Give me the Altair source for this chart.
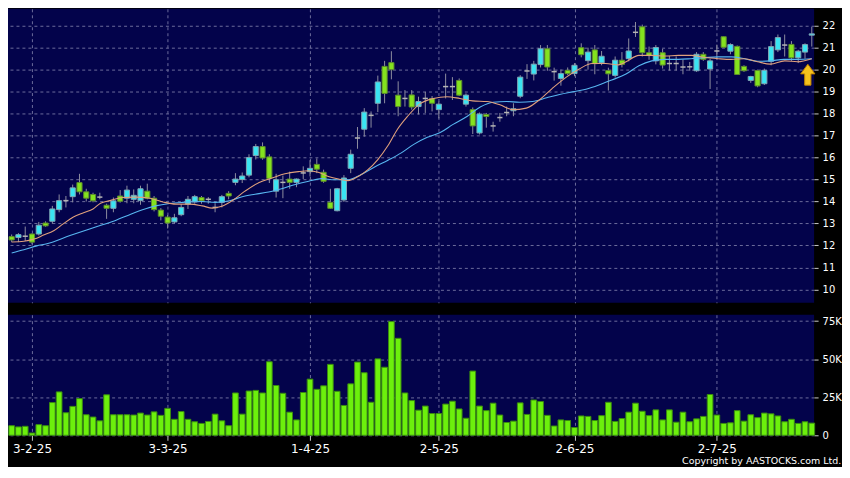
import altair as alt
import pandas as pd

# ---------------- data ----------------
OPEN = [12.40, 12.36, 12.42, 12.52, 12.52, 13.02, 13.10, 13.63, 14.04, 14.22,
        14.86, 14.44, 14.32, 14.20, 13.83, 13.69, 14.25, 14.15, 14.10, 14.04,
        14.47, 14.15, 13.61, 13.29, 13.07, 13.40, 13.88, 13.98, 14.18, 14.10,
        13.73, 13.96, 14.37, 14.87, 15.00, 15.20, 16.09, 16.50, 16.03, 14.47,
        14.87, 15.02, 14.87, 15.30, 15.36, 15.69, 15.33, 13.96, 13.58, 14.07,
        15.51, 16.89, 17.29, 17.92, 18.47, 20.15, 20.32, 18.84, 18.69, 18.85,
        18.32, 18.69, 18.69, 18.18, 19.23, 19.23, 19.51, 18.43, 18.18, 17.12,
        17.96, 17.44, 17.82, 18.05, 18.13, 18.79, 19.94, 19.80, 20.23, 20.95,
        19.91, 19.60, 19.97, 19.82, 21.00, 20.41, 20.90, 20.31, 19.96, 19.74,
        20.43, 20.50, 21.70, 21.95, 20.77, 20.40, 20.77, 20.28, 20.28, 20.12,
        20.13, 19.95, 20.70, 20.03, 20.85, 21.50, 20.84, 21.06, 20.15, 19.51,
        19.96, 19.36, 20.38, 20.90, 21.12, 21.15, 20.54, 20.80, 21.57]
HIGH = [12.50, 12.56, 12.86, 12.55, 13.07, 13.10, 13.80, 14.32, 14.25, 14.77,
        15.26, 14.58, 14.40, 14.40, 13.90, 14.18, 14.52, 14.72, 14.55, 14.72,
        14.81, 14.25, 13.70, 13.39, 13.44, 13.88, 14.25, 14.30, 14.25, 14.20,
        13.92, 14.30, 14.47, 15.29, 15.32, 16.15, 16.62, 16.69, 16.15, 15.26,
        15.18, 15.36, 15.05, 15.60, 15.88, 15.96, 15.45, 14.58, 14.62, 15.20,
        16.36, 17.39, 18.25, 18.10, 19.73, 20.40, 20.84, 19.47, 19.07, 19.07,
        18.77, 18.99, 18.80, 18.55, 19.82, 19.66, 19.60, 18.92, 18.28, 18.05,
        18.03, 17.63, 18.03, 18.32, 18.47, 19.75, 20.25, 20.40, 21.12, 21.12,
        20.09, 20.01, 20.10, 20.30, 21.20, 21.00, 21.12, 20.85, 20.09, 20.60,
        20.80, 21.42, 22.17, 22.05, 21.05, 21.12, 20.95, 20.62, 20.60, 20.46,
        20.35, 20.80, 20.80, 20.50, 21.14, 21.51, 21.20, 21.10, 20.20, 19.72,
        20.00, 20.05, 21.30, 21.60, 21.60, 21.30, 20.90, 21.20, 21.95]
LOW = [12.15, 12.15, 12.20, 12.05, 12.45, 12.85, 12.99, 13.51, 13.73, 13.96,
       14.32, 14.00, 13.96, 14.10, 13.21, 13.51, 13.95, 13.92, 13.92, 13.85,
       14.10, 13.55, 13.14, 12.77, 13.00, 13.33, 13.66, 13.90, 13.90, 13.90,
       13.51, 13.73, 14.10, 14.74, 14.84, 15.10, 15.91, 15.90, 14.84, 14.18,
       14.15, 14.58, 14.65, 15.02, 15.14, 15.29, 14.85, 13.66, 13.55, 13.98,
       15.29, 16.40, 16.95, 17.36, 18.07, 18.47, 19.56, 17.88, 18.32, 18.18,
       17.96, 18.03, 18.10, 17.78, 18.69, 18.62, 18.80, 18.32, 17.07, 17.05,
       17.36, 17.18, 17.63, 17.88, 17.88, 18.70, 19.58, 19.51, 20.10, 19.95,
       19.50, 19.27, 19.75, 19.70, 20.56, 20.00, 19.79, 20.20, 19.05, 19.64,
       20.10, 20.38, 21.49, 20.60, 20.45, 20.24, 20.05, 19.96, 19.96, 19.79,
       19.95, 19.90, 20.40, 19.12, 20.47, 21.00, 20.70, 19.76, 19.90, 19.40,
       19.20, 19.30, 20.20, 20.80, 20.60, 20.40, 20.30, 20.50, 21.05]
CLOSE = [12.25, 12.49, 12.42, 12.15, 12.92, 12.89, 13.66, 14.04, 14.04, 14.62,
         14.44, 14.15, 14.03, 14.20, 13.69, 14.03, 14.01, 14.52, 14.28, 14.58,
         14.15, 13.63, 13.33, 13.02, 13.26, 13.73, 14.10, 14.22, 14.03, 14.10,
         13.73, 14.22, 14.25, 15.02, 15.16, 16.00, 16.50, 15.98, 15.05, 14.99,
         14.87, 14.87, 15.02, 15.30, 15.51, 15.47, 14.92, 13.69, 14.58, 15.07,
         16.15, 16.89, 18.07, 17.92, 19.44, 18.92, 20.00, 18.32, 18.69, 18.30,
         18.55, 18.69, 18.47, 18.43, 19.23, 19.23, 18.84, 18.84, 17.44, 17.98,
         17.87, 17.44, 17.82, 18.05, 18.22, 19.66, 19.94, 20.25, 20.95, 20.12,
         19.91, 19.82, 19.82, 20.20, 20.68, 20.80, 20.27, 20.61, 19.81, 20.43,
         20.24, 20.85, 21.70, 20.77, 20.64, 21.01, 20.21, 20.28, 20.28, 20.12,
         20.13, 20.70, 20.47, 20.40, 20.85, 21.02, 21.14, 19.78, 19.95, 19.69,
         19.26, 19.97, 21.05, 21.46, 21.12, 20.54, 20.84, 21.14, 21.63]
VOLUME_K = [6.3, 5.5, 5.9, 1.5, 7.0, 6.3, 21.5, 28.5, 14.8, 19.0,
            24.1, 13.5, 12.0, 9.5, 26.6, 13.5, 13.5, 13.5, 13.3, 14.6,
            13.3, 15.4, 13.1, 17.7, 10.5, 15.6, 10.5, 8.9, 7.8, 9.1,
            13.9, 9.5, 6.3, 27.8, 13.9, 29.1, 29.5, 27.8, 48.3, 32.7,
            27.6, 15.2, 10.1, 28.1, 36.9, 30.2, 32.5, 46.6, 28.9, 19.6,
            33.8, 48.1, 41.1, 21.7, 50.2, 44.7, 74.7, 63.7, 27.8, 22.8,
            16.5, 19.2, 14.3, 14.3, 20.5, 22.4, 17.3, 11.2, 42.2, 19.2,
            16.2, 21.1, 13.3, 8.4, 9.3, 21.3, 13.7, 23.2, 22.2, 13.1,
            6.1, 10.1, 9.7, 5.1, 12.7, 12.4, 9.7, 12.9, 21.7, 9.1,
            11.0, 15.2, 21.1, 15.8, 12.9, 16.7, 10.1, 16.7, 8.6, 15.2,
            8.9, 10.8, 12.4, 26.8, 13.3, 7.8, 8.2, 16.2, 9.3, 13.5,
            11.6, 14.6, 14.1, 12.7, 8.9, 10.5, 7.8, 8.9, 8.0]

# moving-average lines (bar index, price)
MA_FAST_DAY = [0, 1.8, 3.3, 4.7, 6.2, 7.6, 9.1, 10.6, 12.0, 13.1, 14.5, 16.4, 18.3,
               20.4, 22.3, 24.2, 26.2, 28.1, 29.6, 31.0, 32.5, 34.4, 36.5, 38.4,
               40.3, 42.3, 43.8, 45.2, 46.7, 48.2, 49.6, 51.1, 52.5, 54.0, 55.5,
               56.9, 58.4, 60.0, 62.2, 64.2, 66.1, 68.0, 70.1, 72.0, 73.9, 75.9,
               77.8, 79.7, 81.8, 83.7, 85.6, 87.6, 89.5, 90.6, 92.5, 94.4, 96.4,
               98.3, 100.2, 102.3, 104.2, 106.1, 108.1, 110.0, 111.9, 114.0,
               115.9, 118.0]
MA_FAST_VAL = [12.16, 12.19, 12.29, 12.47, 12.67, 12.98, 13.29, 13.49, 13.66, 13.92,
               14.04, 14.18, 14.20, 14.15, 13.98, 13.88, 13.88, 13.80, 13.70, 13.78,
               14.03, 14.47, 14.87, 15.07, 15.26, 15.36, 15.40, 15.33, 15.14, 15.02,
               14.95, 15.14, 15.44, 15.91, 16.55, 17.29, 17.88, 18.40, 18.69, 18.77,
               18.69, 18.58, 18.55, 18.40, 18.18, 18.25, 18.62, 19.14, 19.66, 20.03,
               20.28, 20.28, 20.22, 20.36, 20.65, 20.65, 20.62, 20.65, 20.65, 20.55,
               20.50, 20.47, 20.50, 20.36, 20.25, 20.40, 20.36, 20.50]
MA_SLOW_DAY = [0, 1.8, 3.7, 5.2, 8.6, 11.5, 13.5, 15.4, 17.4, 19.3, 21.2, 23.3, 25.2,
               28.1, 30.0, 32.1, 34.0, 35.9, 37.9, 39.8, 41.7, 43.8, 45.7, 47.6,
               49.6, 51.5, 53.4, 55.5, 57.4, 59.3, 61.3, 63.2, 65.1, 67.2, 69.1,
               71.0, 73.0, 74.9, 76.8, 78.9, 80.8, 82.7, 84.7, 86.6, 88.5, 90.6,
               92.5, 94.4, 96.4, 98.3, 100.2, 102.3, 104.2, 106.1, 108.1, 110.0,
               111.9, 113.9, 115.9, 118.0]
MA_SLOW_VAL = [11.66, 11.80, 11.98, 12.08, 12.45, 12.75, 12.95, 13.15, 13.40, 13.62,
               13.80, 13.91, 13.96, 14.00, 13.96, 14.03, 14.22, 14.33, 14.43, 14.58,
               14.76, 14.92, 15.04, 14.99, 14.99, 15.22, 15.55, 15.88, 16.20, 16.60,
               16.92, 17.14, 17.51, 17.88, 18.30, 18.52, 18.55, 18.52, 18.55, 18.72,
               18.87, 18.99, 19.11, 19.30, 19.53, 19.80, 20.18, 20.40, 20.47, 20.47,
               20.50, 20.55, 20.58, 20.58, 20.50, 20.38, 20.40, 20.47, 20.47, 20.50]

DATE_TICK_DAYS = [3, 23, 44, 63, 83, 104]
DATE_TICK_LABELS = ["3-2-25", "3-3-25", "1-4-25", "2-5-25", "2-6-25", "2-7-25"]
PRICE_TICKS = [10, 11, 12, 13, 14, 15, 16, 17, 18, 19, 20, 21, 22]
VOLUME_TICKS = [0, 25000, 50000, 75000]
ARROW_PRICE = [19.77]
COPYRIGHT = "Copyright by AASTOCKS.com Ltd."

# ---------------- styling ----------------
FONT = "DejaVu Sans"
NAVY = "#03034b"
UP_FILL, UP_EDGE = "#3ae4f2", "#7fa6b4"
DOWN_FILL, DOWN_EDGE = "#84e21e", "#5c8c2c"
WICK = "#8e8ea0"
DOJI = "#b4b4b4"
VOL_FILL, VOL_EDGE = "#6cf00c", "#3a8c10"
GRID = "#6c6c9c"
MA_FAST_COLOR = "#e0a07c"
MA_SLOW_COLOR = "#58b6f0"
W, H_PRICE, H_VOL = 809, 295, 121

n = len(OPEN)
direction = ["up" if c > o else ("down" if c < o else "flat") for o, c in zip(OPEN, CLOSE)]
df = pd.DataFrame({
    "day": list(range(n)), "o": OPEN, "h": HIGH, "l": LOW, "c": CLOSE,
    "vol": [v * 1000 for v in VOLUME_K], "dir": direction,
})
fast_df = pd.DataFrame({"day": MA_FAST_DAY, "v": MA_FAST_VAL})
slow_df = pd.DataFrame({"day": MA_SLOW_DAY, "v": MA_SLOW_VAL})
arrow_df = pd.DataFrame({"day": [n - 1], "p": ARROW_PRICE})

xs = alt.Scale(domain=[-0.541, n - 0.66], nice=False, zero=False)
ys = alt.Scale(domain=[9.391, 22.769], nice=False, zero=False)
vs = alt.Scale(domain=[0, 79200], nice=False, zero=True)

grid_x = alt.Axis(values=DATE_TICK_DAYS, labels=False, ticks=False, domain=False,
                  grid=True, gridColor=GRID, gridDash=[3, 3], title=None)
price_axis = alt.Axis(orient="right", values=PRICE_TICKS, title=None, domain=False,
                      tickSize=4, tickColor="#c8c8c8", labelColor="#ffffff",
                      labelFont=FONT, labelFontSize=10, labelPadding=4,
                      grid=True, gridColor=GRID, gridDash=[3, 3])


def px(field):
    return alt.X(field, scale=xs, axis=grid_x)


def py(field):
    return alt.Y(field, scale=ys, axis=price_axis)


half = "0.38"
wick = alt.Chart(df).mark_rule(color=WICK, strokeWidth=1).encode(
    x=px("day:Q"), y=py("l:Q"), y2="h:Q",
)
body = alt.Chart(df).transform_filter("datum.dir != 'flat'").transform_calculate(
    x0=f"datum.day - {half}", x1=f"datum.day + {half}"
).mark_bar(strokeWidth=1).encode(
    x=px("x0:Q"), x2="x1:Q", y=py("o:Q"), y2="c:Q",
    fill=alt.Fill("dir:N", scale=alt.Scale(domain=["up", "down"], range=[UP_FILL, DOWN_FILL]), legend=None),
    stroke=alt.Stroke("dir:N", scale=alt.Scale(domain=["up", "down"], range=[UP_EDGE, DOWN_EDGE]), legend=None),
)
doji = alt.Chart(df).transform_filter("datum.dir == 'flat'").transform_calculate(
    x0=f"datum.day - {half}", x1=f"datum.day + {half}"
).mark_rule(color=DOJI, strokeWidth=1.5).encode(
    x=px("x0:Q"), x2="x1:Q", y=py("c:Q"),
)
ma_slow = alt.Chart(slow_df).mark_line(color=MA_SLOW_COLOR, strokeWidth=1.1, interpolate="monotone").encode(
    x=px("day:Q"), y=py("v:Q"))
ma_fast = alt.Chart(fast_df).mark_line(color=MA_FAST_COLOR, strokeWidth=1.1, interpolate="monotone").encode(
    x=px("day:Q"), y=py("v:Q"))
ARROW_SHAPE = "M0,-1 L0.68,-0.08 L0.3,-0.08 L0.3,1 L-0.3,1 L-0.3,-0.08 L-0.68,-0.08 Z"
arrow = alt.Chart(arrow_df).mark_point(shape=ARROW_SHAPE, filled=True, fill="#f6c21c",
                                       stroke="#c08400", strokeWidth=1, size=440, opacity=1,
                                       xOffset=-4).encode(x=px("day:Q"), y=py("p:Q"))

price = alt.layer(wick, body, doji, ma_slow, ma_fast, arrow).properties(width=W, height=H_PRICE)

label_expr = " : ".join(f"datum.value == {d} ? '{t}'" for d, t in zip(DATE_TICK_DAYS, DATE_TICK_LABELS)) + " : ''"
vol = alt.Chart(df).transform_calculate(
    x0="datum.day - 0.42", x1="datum.day + 0.42"
).mark_bar(fill=VOL_FILL, stroke=VOL_EDGE, strokeWidth=1).encode(
    x=alt.X("x0:Q", scale=xs, axis=alt.Axis(values=DATE_TICK_DAYS, labelExpr=label_expr, title=None,
                                            domain=False, tickSize=5, tickColor="#c8c8c8",
                                            labelColor="#ffffff", labelFont=FONT, labelFontSize=12,
                                            labelPadding=3, grid=True, gridColor=GRID, gridDash=[3, 3])),
    x2="x1:Q",
    y=alt.Y("vol:Q", scale=vs, axis=alt.Axis(orient="right", values=VOLUME_TICKS, title=None, domain=False,
                                             labelExpr="datum.value == 0 ? '0' : format(datum.value / 1000, 'd') + 'K'",
                                             tickSize=4, tickColor="#c8c8c8", labelColor="#ffffff",
                                             labelFont=FONT, labelFontSize=10, labelPadding=4,
                                             grid=True, gridColor=GRID, gridDash=[3, 3])),
    y2=alt.datum(0),
).properties(width=W, height=H_VOL)

chart = alt.vconcat(price, vol, spacing=12).properties(
    padding={"left": 0, "top": 0, "right": 0, "bottom": 0},
    background="#000000",
    title=alt.TitleParams(text=COPYRIGHT, orient="bottom", anchor="end", frame="bounds",
                          color="#ffffff", font=FONT, fontSize=9.5, fontWeight="normal", offset=2),
).configure_view(fill=NAVY, stroke=None)

chart.save("out.html", embed_options={"renderer": "svg", "actions": False})
